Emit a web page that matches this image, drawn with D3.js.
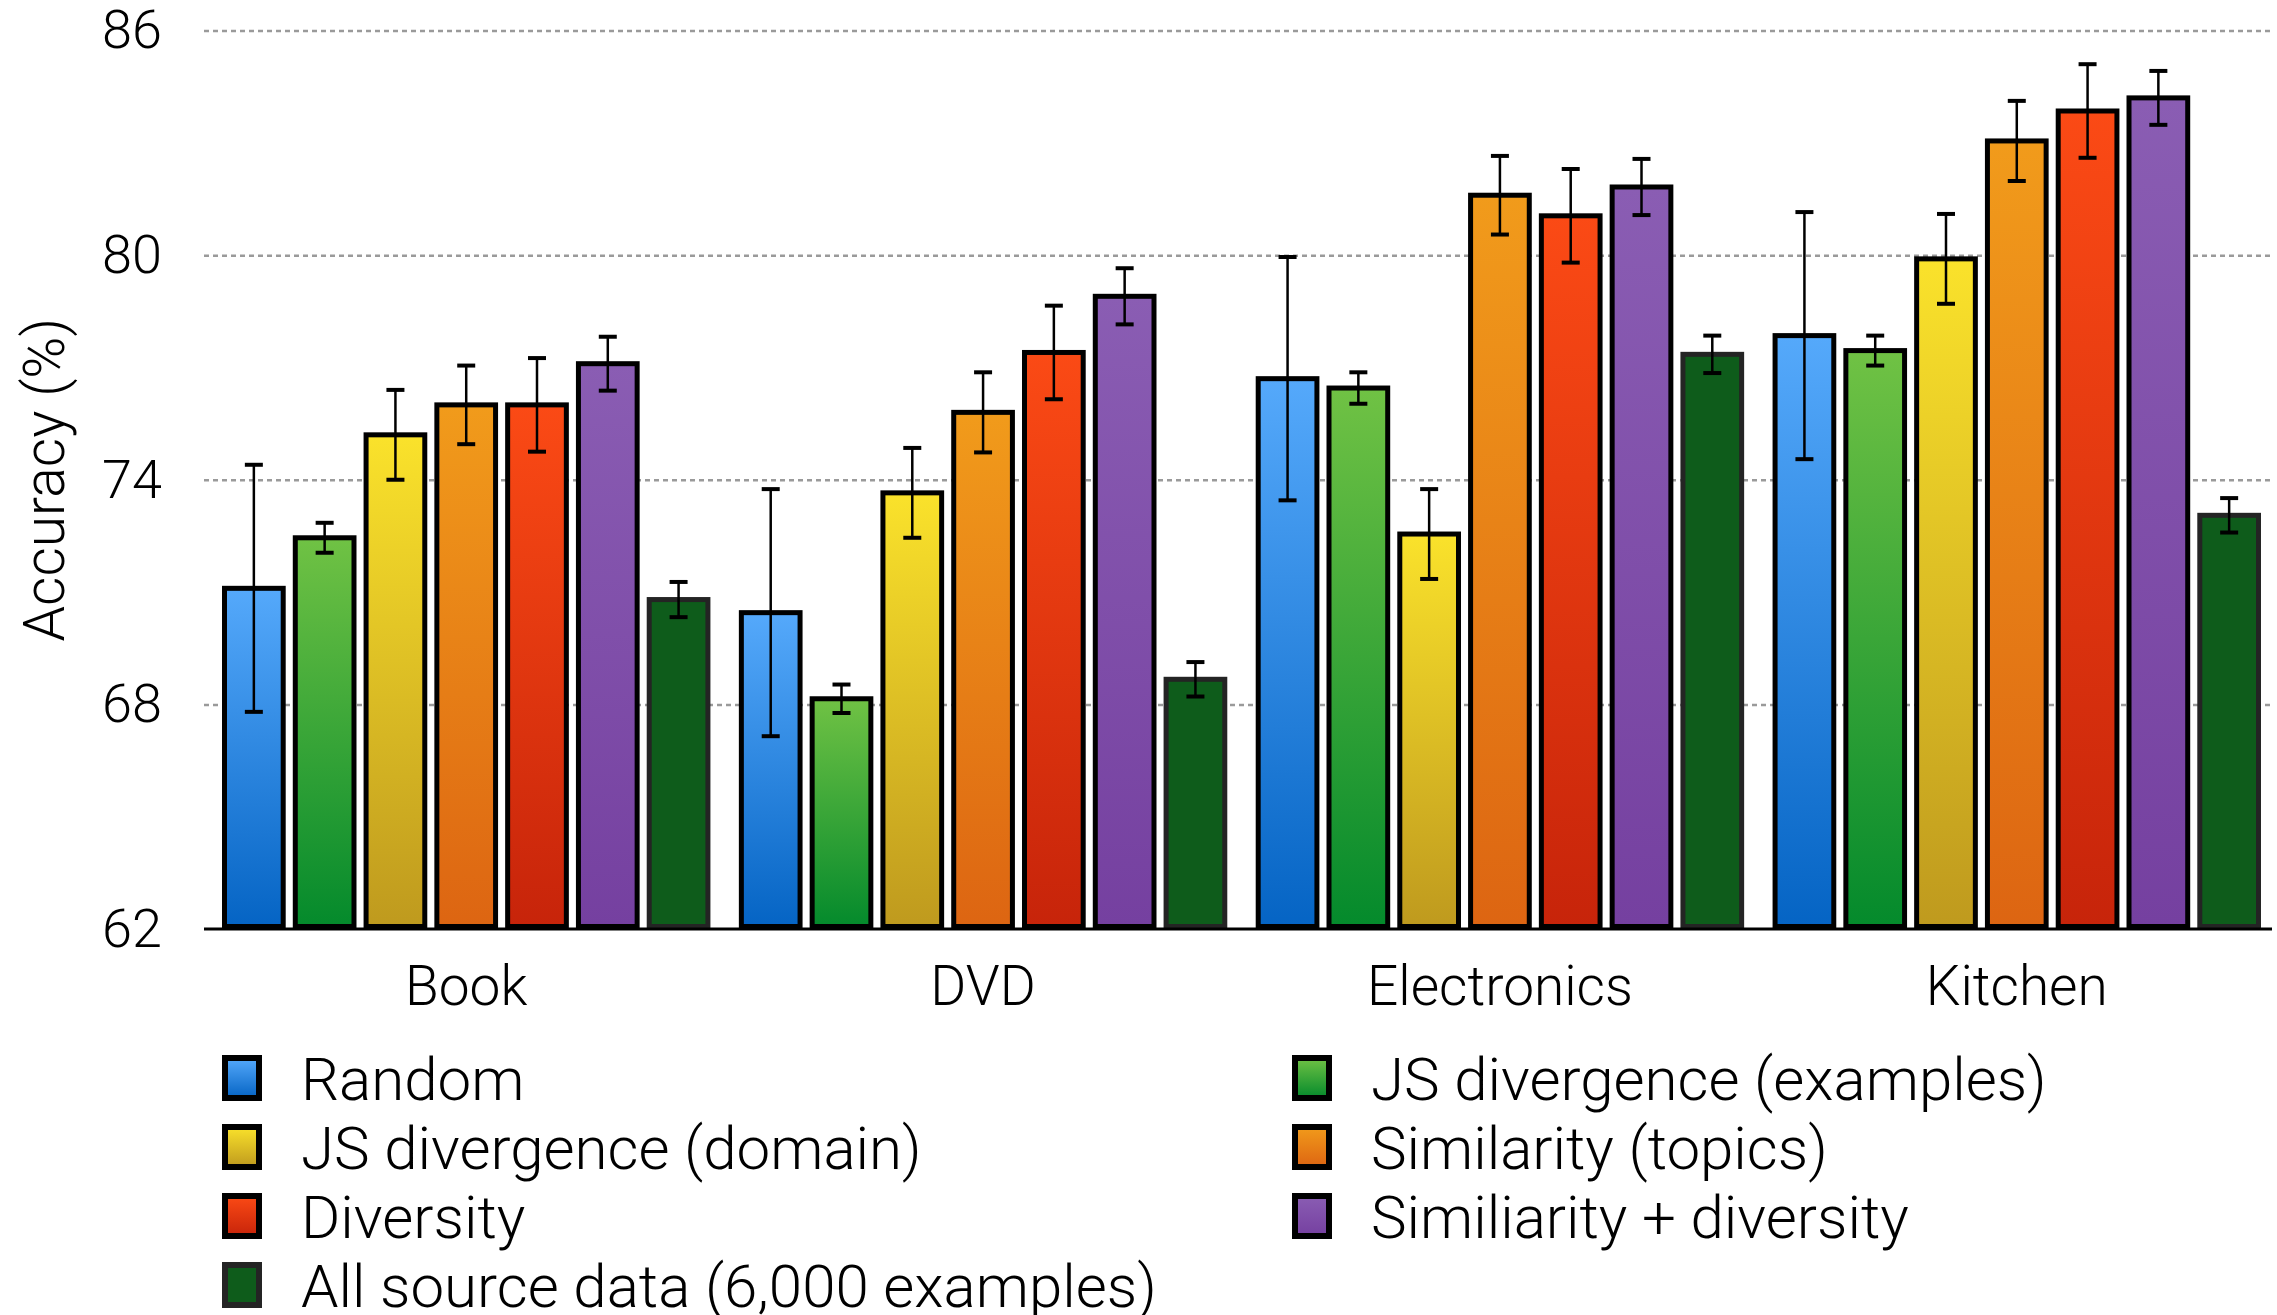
<!DOCTYPE html>
<html>
<head>
<meta charset="utf-8">
<script src="https://cdn.jsdelivr.net/npm/d3@7"></script>
<style>
  body { margin: 0; background: #fff; }
  svg text { font-family: Roboto, "Liberation Sans", sans-serif; font-weight: 300; fill: #000; }
</style>
</head>
<body>
<div class="chart"></div>
<script>
// data
const categories = ["Book", "DVD", "Electronics", "Kitchen"];
const methods = ["Random", "JS divergence (examples)", "JS divergence (domain)",
  "Similarity (topics)", "Diversity", "Similiarity + diversity", "All source data (6,000 examples)"];

const accBook        = [71.1, 72.45, 75.2, 76.0, 76.0, 77.1, 70.8];
const accDVD         = [70.45, 68.15, 73.65, 75.8, 77.4, 78.9, 68.67];
const accElectronics = [76.7, 76.45, 72.55, 81.6, 81.05, 81.82, 77.35];
const accKitchen     = [77.85, 77.45, 79.9, 83.05, 83.85, 84.2, 73.05];

const errBook        = [3.3, 0.4, 1.2, 1.05, 1.25, 0.72, 0.47];
const errDVD         = [3.3, 0.38, 1.2, 1.07, 1.25, 0.75, 0.46];
const errElectronics = [3.25, 0.42, 1.2, 1.05, 1.25, 0.75, 0.5];
const errKitchen     = [3.3, 0.4, 1.2, 1.07, 1.25, 0.72, 0.46];

const yTicks = [62, 68, 74, 80, 86];

// colours: top / bottom of each bar gradient
const colTop    = ["#55a9fb", "#70c244", "#fae22b", "#f19b1b", "#fb4a15", "#8a5db3", "#0e5c1b"];
const colBottom = ["#0564c4", "#048a2c", "#bf9a1e", "#dd6512", "#c7240a", "#7540a0", "#0e5c1b"];
const colStroke = ["#000", "#000", "#000", "#000", "#000", "#000", "#242424"];

const acc = [accBook, accDVD, accElectronics, accKitchen];
const err = [errBook, errDVD, errElectronics, errKitchen];
const data = categories.map((c, i) => ({
  cat: c,
  bars: methods.map((m, j) => ({ m: j, v: acc[i][j], e: err[i][j] }))
}));

const W = 2277, H = 1315;
const plotLeft = 204, plotRight = 2272, plotTop = 30.5, plotBottom = 929;

const svg = d3.select(".chart").append("svg")
  .attr("width", W)
  .attr("height", H);

const defs = svg.append("defs");
methods.forEach((m, j) => {
  const g = defs.append("linearGradient")
    .attr("id", "grad" + j)
    .attr("x1", 0).attr("y1", 0).attr("x2", 0).attr("y2", 1);
  g.append("stop").attr("offset", "0%").attr("stop-color", colTop[j]);
  g.append("stop").attr("offset", "100%").attr("stop-color", colBottom[j]);
});

const y = d3.scaleLinear().domain([62, 86]).range([plotBottom, plotTop]);

const x0 = d3.scaleBand()
  .domain(categories)
  .range([222, 2261])
  .paddingInner(0.055);

const x1 = d3.scaleBand()
  .domain(d3.range(methods.length))
  .range([0, x0.bandwidth()])
  .paddingInner(0.1);

// grid + y labels
const yAxis = svg.append("g")
  .attr("transform", `translate(${plotLeft},0)`)
  .call(d3.axisLeft(y).tickValues(yTicks).tickSize(-(plotRight - plotLeft)).tickPadding(42));
yAxis.select(".domain").remove();
yAxis.selectAll(".tick line")
  .attr("stroke", "#9a9a9a")
  .attr("stroke-width", 2.5)
  .attr("stroke-dasharray", "5,4")
  .attr("opacity", d => d === 62 ? 0 : 1);
yAxis.selectAll(".tick text")
  .style("font-size", "54px");

svg.append("text")
  .attr("transform", `translate(44,${(plotTop + plotBottom) / 2}) rotate(-90)`)
  .attr("text-anchor", "middle")
  .attr("dy", "0.35em")
  .style("font-size", "57px")
  .text("Accuracy (%)");

// bars
const sw = 5;
const groups = svg.append("g").selectAll("g")
  .data(data)
  .join("g")
  .attr("transform", d => `translate(${x0(d.cat)},0)`);

groups.selectAll("rect")
  .data(d => d.bars)
  .join("rect")
  .attr("x", d => x1(d.m) + sw / 2)
  .attr("width", x1.bandwidth() - sw)
  .attr("y", d => y(d.v))
  .attr("height", d => y(62) - y(d.v) - sw / 2)
  .attr("fill", d => `url(#grad${d.m})`)
  .attr("stroke", d => colStroke[d.m])
  .attr("stroke-width", sw);

// error bars
const eb = groups.selectAll("g.err")
  .data(d => d.bars)
  .join("g")
  .attr("class", "err")
  .attr("transform", d => `translate(${x1(d.m) + x1.bandwidth() / 2},0)`);
eb.append("line")
  .attr("y1", d => y(d.v + d.e))
  .attr("y2", d => y(d.v - d.e))
  .attr("stroke", "#000")
  .attr("stroke-width", 2.5);
eb.selectAll("line.cap")
  .data(d => [d.v + d.e, d.v - d.e])
  .join("line")
  .attr("class", "cap")
  .attr("x1", -9).attr("x2", 9)
  .attr("y1", d => y(d)).attr("y2", d => y(d))
  .attr("stroke", "#000")
  .attr("stroke-width", 4);

// x axis
svg.append("line")
  .attr("x1", plotLeft).attr("x2", plotRight)
  .attr("y1", plotBottom).attr("y2", plotBottom)
  .attr("stroke", "#000")
  .attr("stroke-width", 3);

const xAxis = svg.append("g")
  .attr("transform", `translate(0,${plotBottom})`)
  .call(d3.axisBottom(x0).tickSize(0).tickPadding(37));
xAxis.select(".domain").remove();
xAxis.selectAll(".tick text").style("font-size", "55px");

// legend
const legend = svg.append("g").selectAll("g")
  .data(methods)
  .join("g")
  .attr("transform", (d, i) => `translate(${i % 2 === 0 ? 222 : 1292},${1078 + 69 * Math.floor(i / 2)})`);
legend.append("rect")
  .attr("x", 3).attr("y", -20)
  .attr("width", 34).attr("height", 40)
  .attr("fill", (d, i) => `url(#grad${i})`)
  .attr("stroke", (d, i) => colStroke[i])
  .attr("stroke-width", 6);
legend.append("text")
  .attr("x", 79)
  .attr("dy", "0.36em")
  .style("font-size", "60px")
  .text(d => d);
</script>
</body>
</html>
